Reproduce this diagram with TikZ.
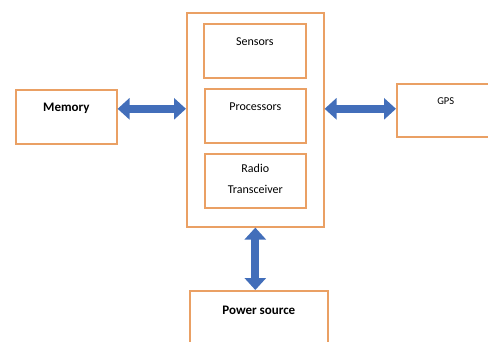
\documentclass[tikz,border=0pt]{standalone}
\usepackage{fontspec}
\setmainfont{Carlito}
\usetikzlibrary{arrows.meta}
\definecolor{boxorange}{RGB}{234,160,100}
\definecolor{arrowblue}{RGB}{66,110,186}

\begin{document}
\begin{tikzpicture}[x=1pt,y=-1pt]
            \tikzset{
                blk/.style={draw=boxorange, line width=1.6pt, inner sep=0pt, anchor=north west},
                lbl/.style={anchor=center, yshift=-19pt, font=\fontsize{12}{14}\selectfont},
                boldlbl/.style={lbl, font=\fontsize{13}{15}\selectfont\bfseries},
                link/.style={draw=arrowblue, line width=8pt,
                    {Triangle[length=12pt,width=21pt]}-{Triangle[length=12pt,width=21pt]}},}
            \clip (0,0) rectangle (488,341);
            % sensor node and its parts
            \node[blk, minimum width=137pt, minimum height=214pt] (unit) at (186,12) {};
            \node[blk, minimum width=102pt, minimum height=54pt,
                label={[lbl]north:Sensors}] (sens) at (203,23) {};
            \node[blk, minimum width=101pt, minimum height=54pt,
                label={[lbl]north:Processors}] (proc) at (204,88) {};
            \node[blk, minimum width=101pt, minimum height=54pt,
                label={[lbl, yshift=-6.5pt, align=center]north:Radio\\[7pt]Transceiver}] (radio) at (204,153) {};
            % outside blocks
            \node[blk, minimum width=101pt, minimum height=54pt,
                label={[boldlbl]north:Memory}] (mem) at (15,89) {};
            \node[blk, minimum width=98pt, minimum height=53pt,
                label={[lbl, yshift=1pt, font=\fontsize{10.5}{12}\selectfont]north:GPS}] (gps) at (396,83) {};
            \node[blk, minimum width=138pt, minimum height=60pt,
                label={[boldlbl, yshift=-1pt]north:Power source}] (power) at (189,290) {};
            % links
            \draw[link] ([yshift=8pt]mem.east) -- ([yshift=8pt]mem.east -| unit.west);
            \draw[link] ([yshift=1.5pt]gps.west -| unit.east) -- ([yshift=1.5pt]gps.west);
            \draw[link] (unit.south) -- (unit.south |- power.north);
        \end{tikzpicture}
\end{document}
